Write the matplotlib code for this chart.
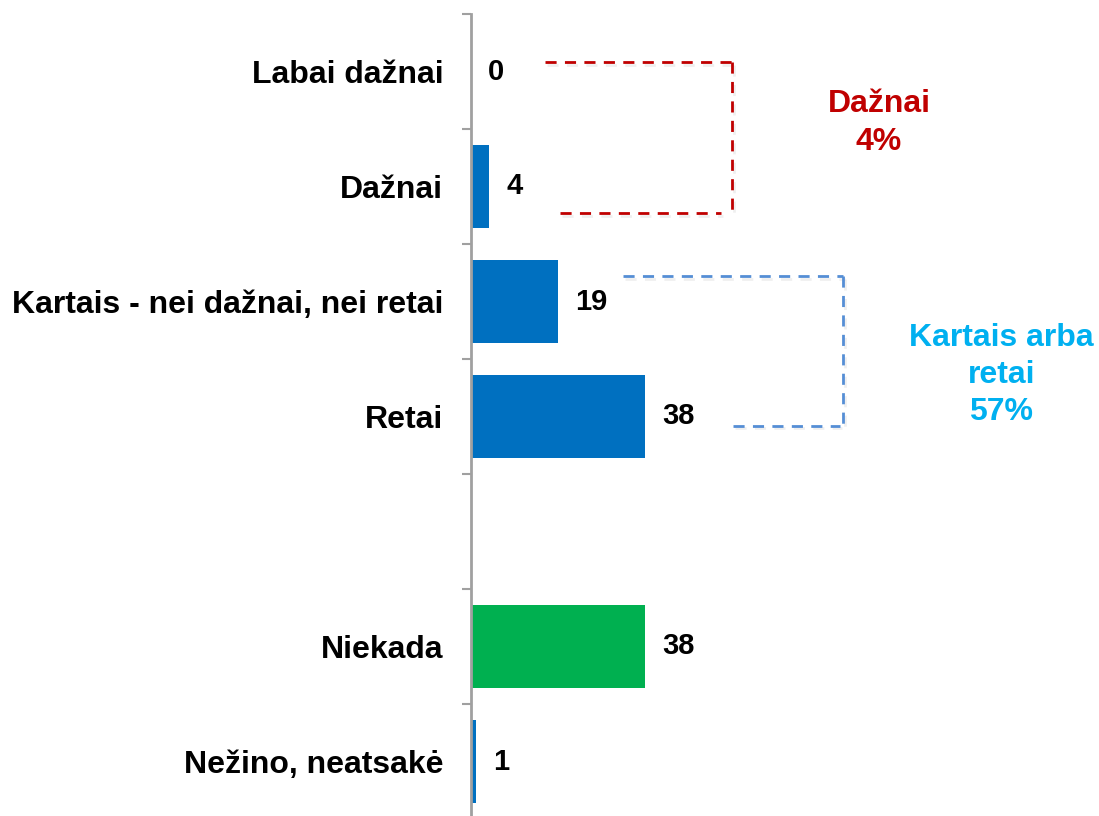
import numpy as np
import matplotlib.pyplot as plt
import matplotlib.patheffects as pe

plt.rcParams['font.family'] = ['Liberation Sans', 'DejaVu Sans']

# Duomenys
kategorijos = ["Labai dažnai", "Dažnai", "Kartais - nei dažnai, nei retai",
               "Retai", "", "Niekada", "Nežino, neatsakė"]
reiksmes = [0, 4, 19, 38, np.nan, 38, 1]
spalvos = ["#0070C0", "#0070C0", "#0070C0", "#0070C0", "#0070C0", "#00B050", "#0070C0"]
reiksmiu_tekstai = ["0", "4", "19", "38", "", "38", "1"]

fig = plt.figure(figsize=(10.99, 8.16), dpi=100)
ax = fig.add_axes([471 / 1099, 0, 1 - 471 / 1099, (816 - 14) / 816])

y = np.arange(len(kategorijos))
vals = np.nan_to_num(np.array(reiksmes, dtype=float))
ax.barh(y, vals, height=0.72, color=spalvos)

for yi, v, t in zip(y, vals, reiksmiu_tekstai):
    if t:
        ax.annotate(t, (v, yi), xytext=(12.5, 0), textcoords="offset points",
                    va="center", ha="left", fontsize=21, fontweight="bold")

ax.set_xlim(0, 137)
ax.set_ylim(6.5 - 3 / 115, -0.5)

ax.set_yticks(y)
ax.set_yticklabels(kategorijos, fontsize=23, fontweight="bold")
ax.tick_params(axis="y", which="major", length=0, pad=20)
ax.set_yticks(np.arange(-0.5, 6.5, 1), minor=True)
ax.tick_params(axis="y", which="minor", length=6.5, width=1.5, color="#A0A0A0")
ax.set_xticks([])

for s in ["top", "right", "bottom"]:
    ax.spines[s].set_visible(False)
ax.spines["left"].set_color("#A0A0A0")
ax.spines["left"].set_linewidth(2)

# Grupavimo rėmeliai
raudona = "#C00000"
melyna = "#558ED5"
seselis = [pe.SimpleLineShadow(offset=(1.5, -2), alpha=0.12, shadow_color="gray"), pe.Normal()]
dash = dict(lw=2, linestyle=(0, (4, 3)), clip_on=False, path_effects=seselis)
ax.plot([16.2, 57.0], [-0.08, -0.08], color=raudona, **dash)
ax.plot([57.0, 57.0], [-0.08, 1.23], color=raudona, **dash)
ax.plot([19.4, 54.5], [1.23, 1.23], color=raudona, **dash)

ax.plot([33.2, 81.2], [1.78, 1.78], color=melyna, **dash)
ax.plot([81.2, 81.2], [1.78, 3.1], color=melyna, **dash)
ax.plot([57.2, 80.5], [3.08, 3.08], color=melyna, **dash)

ax.text(89.0, 0.45, "Dažnai\n4%", color=raudona, fontsize=23, fontweight="bold",
        ha="center", va="center", linespacing=1.35)
ax.text(115.7, 2.64, "Kartais arba\nretai\n57%", color="#00B0F0", fontsize=23,
        fontweight="bold", ha="center", va="center", linespacing=1.3)

fig.savefig("out.png", dpi=100)
